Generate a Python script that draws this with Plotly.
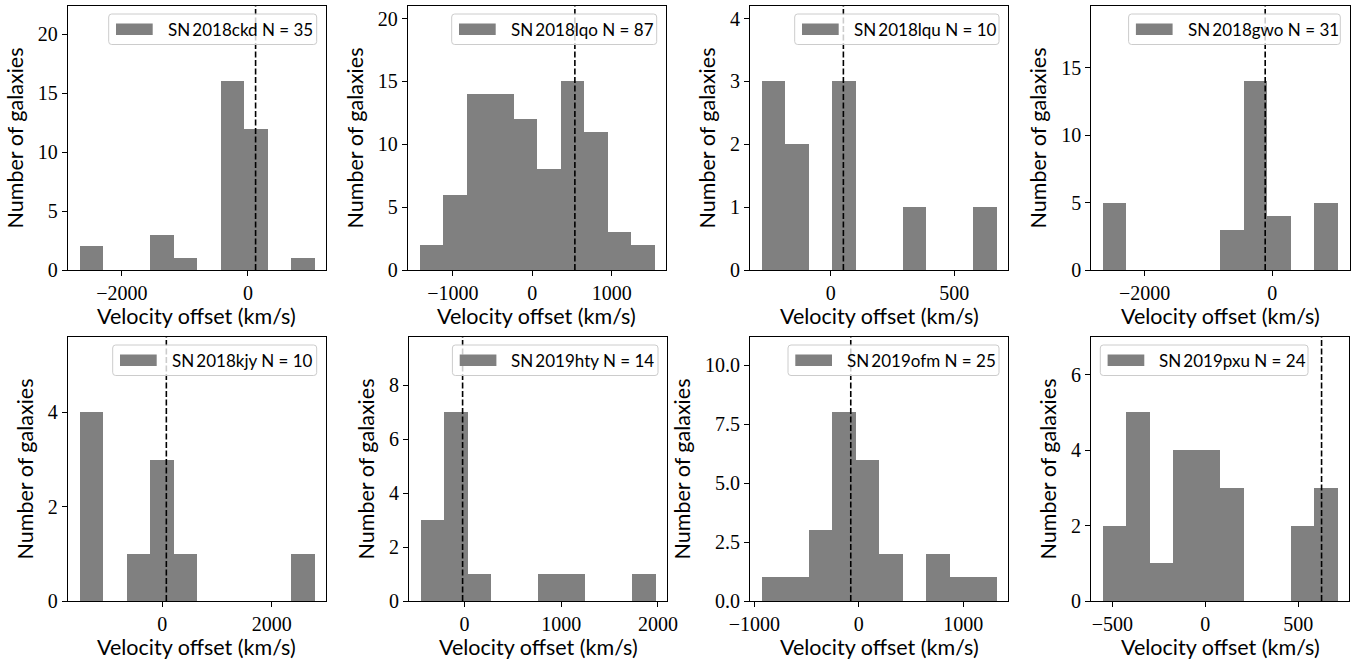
import numpy as np
import plotly.graph_objects as go

W, H = 1353, 662

# ---------------- data ----------------
sn_names = ["SN 2018ckd", "SN 2018lqo", "SN 2018lqu", "SN 2018gwo",
            "SN 2018kjy", "SN 2019hty", "SN 2019ofm", "SN 2019pxu"]
n_galaxies = [35, 87, 10, 31, 10, 14, 25, 24]

# histogram range (first bin left edge, last bin right edge), km/s
bin_lo = [-2673, -1422, -280, -2651, -1515, -453, -930, -552]
bin_hi = [1053, 1536, 672, 1029, 2776, 1976, 1320, 711]

counts_2018ckd = [2, 0, 0, 3, 1, 0, 16, 12, 0, 1]
counts_2018lqo = [2, 6, 14, 14, 12, 8, 15, 11, 3, 2]
counts_2018lqu = [3, 2, 0, 3, 0, 0, 1, 0, 0, 1]
counts_2018gwo = [5, 0, 0, 0, 0, 3, 14, 4, 0, 5]
counts_2018kjy = [4, 0, 1, 3, 1, 0, 0, 0, 0, 1]
counts_2019hty = [3, 7, 1, 0, 0, 1, 1, 0, 0, 1]
counts_2019ofm = [1, 1, 3, 8, 6, 2, 0, 2, 1, 1]
counts_2019pxu = [2, 5, 1, 4, 4, 3, 0, 0, 2, 3]
all_counts = [counts_2018ckd, counts_2018lqo, counts_2018lqu, counts_2018gwo,
              counts_2018kjy, counts_2019hty, counts_2019ofm, counts_2019pxu]

# SN velocity offset (dashed line), km/s
sn_offset = [122, 536, 51, -110, 73, -20, -77, 625]

# tick spacing
x_dtick = [2000, 1000, 500, 2000, 2000, 1000, 1000, 500]
y_dtick = [5, 5, 1, 5, 2, 2, 2.5, 2]

x_label = "Velocity offset (km/s)"
y_label = "Number of galaxies"

# ---------------- layout geometry (px) ----------------
panel_left = [67.7, 407.7, 750, 1091.3, 67.7, 409, 750, 1091]
panel_top = [6, 6, 6, 6, 337, 337, 337, 337]
PW, PH = 258.3, 264
legend_w = [208, 205, 204.3, 211.7, 204, 205.6, 211, 207.7]
legend_side = ["right"] * 7 + ["left"]

TICK_FONT = dict(family="Liberation Serif", size=20, color="black")
SANS = "Lato"
TITLE_SIZE = 21.5

fig = go.Figure()
layout = dict(
    width=W, height=H,
    margin=dict(l=0, r=0, t=0, b=0, autoexpand=False),
    paper_bgcolor="white", plot_bgcolor="white",
    showlegend=False, bargap=0,
)
shapes = []
annotations = []


def px(x):
    return x / W


def py(y):
    return 1 - y / H


def rounded_rect(x0, y0, x1, y1, r):
    pts = []
    pts.append(f"M{px(x0 + r)},{py(y0)}")
    pts.append(f"L{px(x1 - r)},{py(y0)}")
    pts.append(f"Q{px(x1)},{py(y0)} {px(x1)},{py(y0 + r)}")
    pts.append(f"L{px(x1)},{py(y1 - r)}")
    pts.append(f"Q{px(x1)},{py(y1)} {px(x1 - r)},{py(y1)}")
    pts.append(f"L{px(x0 + r)},{py(y1)}")
    pts.append(f"Q{px(x0)},{py(y1)} {px(x0)},{py(y1 - r)}")
    pts.append(f"L{px(x0)},{py(y0 + r)}")
    pts.append(f"Q{px(x0)},{py(y0)} {px(x0 + r)},{py(y0)}")
    pts.append("Z")
    return " ".join(pts)


for i in range(8):
    ax = "" if i == 0 else str(i + 1)
    left, top = panel_left[i], panel_top[i]
    lo, hi = bin_lo[i], bin_hi[i]
    cnt = all_counts[i]
    nb = len(cnt)
    bw = (hi - lo) / nb
    centers = lo + bw * (np.arange(nb) + 0.5)

    fig.add_trace(go.Bar(
        x=centers, y=cnt, width=bw,
        marker=dict(color="#808080", line=dict(width=0)),
        xaxis="x" + ax, yaxis="y" + ax,
        name=f"{sn_names[i]} N = {n_galaxies[i]}",
        hoverinfo="x+y",
    ))

    span = hi - lo
    ytop = 1.4 * max(cnt)
    layout["xaxis" + ax] = dict(
        domain=[px(left), px(left + PW)], anchor="y" + ax,
        range=[lo - 0.05 * span, hi + 0.05 * span],
        tick0=0, dtick=x_dtick[i], automargin=False,
        showline=True, linecolor="black", linewidth=1, mirror=True,
        ticks="outside", ticklen=5, tickwidth=1, tickcolor="black",
        showgrid=False, zeroline=False, tickfont=TICK_FONT,
    )
    layout["yaxis" + ax] = dict(
        domain=[py(top + PH), py(top)], anchor="x" + ax,
        range=[0, ytop], automargin=False,
        tick0=0, dtick=y_dtick[i],
        tickformat=".1f" if i == 6 else "d",
        showline=True, linecolor="black", linewidth=1, mirror=True,
        ticks="outside", ticklen=5, tickwidth=1, tickcolor="black",
        showgrid=False, zeroline=False, tickfont=TICK_FONT,
        title=dict(text=y_label,
                   font=dict(family=SANS, size=TITLE_SIZE, color="black"), standoff=8),
    )

    # x-axis label
    annotations.append(dict(
        xref="paper", yref="paper", x=px(left + PW / 2), y=py(top + PH + 46),
        xanchor="center", yanchor="middle", showarrow=False,
        text=x_label, font=dict(family=SANS, size=TITLE_SIZE, color="black"),
    ))

    shapes.append(dict(
        type="line", xref="x" + ax, yref="y" + ax + " domain",
        x0=sn_offset[i], x1=sn_offset[i], y0=0, y1=1,
        line=dict(color="black", width=1.6, dash="6px,2.5px"), layer="above",
    ))

    if legend_side[i] == "right":
        bx1 = left + PW - 9.3
        bx0 = bx1 - legend_w[i]
    else:
        bx0 = left + 9.3
        bx1 = bx0 + legend_w[i]
    by0 = top + 8
    by1 = by0 + 30.5
    shapes.append(dict(
        type="path", xref="paper", yref="paper",
        path=rounded_rect(bx0, by0, bx1, by1, 3),
        fillcolor="rgba(255,255,255,0.8)",
        line=dict(color="#cccccc", width=1), layer="above",
    ))
    pcx0 = bx0 + 7.3
    pcx1 = pcx0 + 36.7
    cy = (by0 + by1) / 2
    shapes.append(dict(
        type="rect", xref="paper", yref="paper",
        x0=px(pcx0), x1=px(pcx1), y0=py(cy + 5.7), y1=py(cy - 5.7),
        fillcolor="#808080", line=dict(width=0), layer="above",
    ))
    annotations.append(dict(
        xref="paper", yref="paper", x=px(pcx1 + 13), y=py(cy),
        xanchor="left", yanchor="middle", showarrow=False,
        text=f"{sn_names[i].replace(' ', '\u2009')} N = {n_galaxies[i]}",
        font=dict(family=SANS, size=17, color="black"),
    ))

layout["shapes"] = shapes
layout["annotations"] = annotations
fig.update_layout(**layout)
fig.write_html(
    "out.html",
    config={"displayModeBar": False},
    post_script="document.body.style.margin='0';document.body.style.overflow='hidden';",
)
